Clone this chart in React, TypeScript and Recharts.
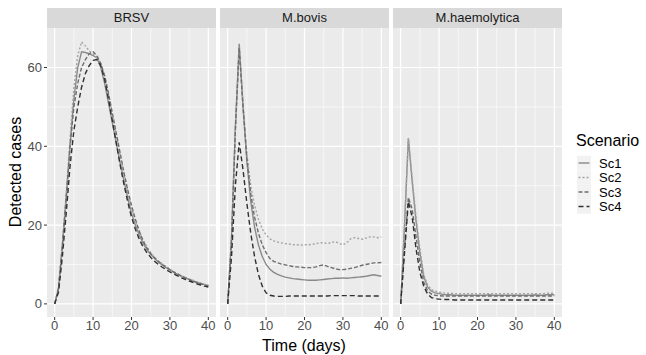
import { LineChart, Line, XAxis, YAxis, CartesianGrid } from 'recharts';

const days = [
  0, 1, 2, 3, 4, 5, 6, 7, 8, 9, 10, 11, 12, 13, 14, 15, 16, 17, 18, 19, 20,
  21, 22, 23, 24, 25, 26, 27, 28, 29, 30, 31, 32, 33, 34, 35, 36, 37, 38, 39, 40,
];

const pathogens = ['BRSV', 'M.bovis', 'M.haemolytica'];
const scenarios = ['Sc1', 'Sc2', 'Sc3', 'Sc4'];

// BRSV
const brsvSc1 = [0, 4, 15, 27, 40, 52, 60, 64, 63.8, 63.5, 63, 62.5, 60, 56, 51, 46, 41, 36, 31.5, 27, 23, 20, 17.5, 15.5, 13.8, 12.5, 11.5, 10.6, 9.9, 9.2, 8.6, 8, 7.5, 7, 6.6, 6.2, 5.8, 5.5, 5.2, 4.9, 4.6];
const brsvSc2 = [0, 4, 15, 28, 42, 55, 63, 66.5, 65.5, 64.2, 63.5, 62.5, 61, 57.5, 53, 48, 43, 38, 33, 28.5, 24.5, 21, 18.5, 16.2, 14.5, 13, 11.8, 10.8, 10.2, 9.5, 8.8, 8.2, 7.6, 7.1, 6.7, 6.3, 6, 5.6, 5.3, 5, 4.8];
const brsvSc3 = [0, 4, 14.5, 27, 40, 50, 56, 60, 62, 63.5, 64, 63, 61, 58, 53.5, 48.5, 43.5, 38.5, 33.5, 29, 25, 21.5, 18.5, 16, 14.2, 12.8, 11.7, 10.8, 10, 9.3, 8.7, 8.1, 7.6, 7.1, 6.6, 6.2, 5.8, 5.4, 5.1, 4.8, 4.5];
const brsvSc4 = [0, 3, 12, 23, 35, 44, 50, 55, 58.5, 60.5, 61.8, 62, 60.5, 57, 52, 46.5, 41, 35.5, 30.5, 26, 22, 19, 16.5, 14.5, 13, 11.8, 10.8, 10, 9.3, 8.7, 8.1, 7.6, 7.1, 6.6, 6.2, 5.8, 5.5, 5.1, 4.8, 4.5, 4.3];

// M.bovis
const bovisSc1 = [0, 17, 45, 66, 50, 36, 26, 19.5, 15, 12, 10, 8.8, 8, 7.5, 7.1, 6.8, 6.6, 6.4, 6.3, 6.2, 6.1, 6, 6, 6, 6.1, 6.2, 6.3, 6.4, 6.5, 6.5, 6.6, 6.5, 6.6, 6.7, 6.8, 6.9, 7, 7.2, 7.4, 7.2, 7];
const bovisSc2 = [0, 16, 44, 65, 51, 38, 30, 25, 21.5, 19, 17.5, 16.5, 16, 15.7, 15.5, 15.3, 15.2, 15, 15, 14.9, 15, 15, 15.1, 15.3, 15.5, 15.5, 15.3, 15.6, 15.8, 15.4, 15, 15.5, 16.5, 16.8, 16.6, 16.4, 16.7, 17, 17, 16.8, 17];
const bovisSc3 = [0, 16, 44, 65, 50, 37, 28, 22, 18, 15, 13, 11.5, 10.8, 10.4, 10.1, 9.9, 9.7, 9.5, 9.4, 9.3, 9.2, 9.2, 9.2, 9.4, 9.7, 9.9, 9.5, 9.2, 8.9, 8.7, 8.7, 8.8, 9, 9.2, 9.5, 9.8, 10, 10.2, 10.4, 10.4, 10.5];
const bovisSc4 = [0, 12, 30, 41, 34, 25.5, 18, 12, 7.5, 4.5, 2.8, 2.2, 2, 1.9, 1.9, 1.9, 2, 2, 2, 2, 2, 2, 2, 2, 2, 2, 2, 2.1, 2.1, 2.1, 2.1, 2.1, 2.1, 2.1, 2, 2, 2, 2, 2, 2, 2];

// M.haemolytica
const haemSc1 = [0, 20, 42, 31, 21, 13, 7, 4.3, 3.2, 2.8, 2.6, 2.4, 2.3, 2.3, 2.2, 2.2, 2.2, 2.2, 2.2, 2.2, 2.2, 2.2, 2.2, 2.3, 2.2, 2.2, 2.2, 2.2, 2.2, 2.2, 2.2, 2.2, 2.2, 2.2, 2.2, 2.3, 2.2, 2.2, 2.3, 2.3, 2.3];
const haemSc2 = [0, 20, 42, 32, 22, 14, 7.5, 4.8, 3.6, 3.2, 3, 2.8, 2.7, 2.7, 2.6, 2.6, 2.6, 2.6, 2.6, 2.6, 2.6, 2.6, 2.6, 2.6, 2.6, 2.6, 2.6, 2.6, 2.6, 2.6, 2.6, 2.6, 2.6, 2.6, 2.6, 2.6, 2.6, 2.6, 2.7, 2.7, 2.7];
const haemSc3 = [0, 14, 27, 24, 17, 10.5, 5.5, 3.3, 2.5, 2.2, 2.1, 2, 2, 2, 2, 2, 2, 2, 2, 2, 2, 2, 2, 2, 2, 2, 2, 2, 2, 2, 2, 2, 2, 2, 2, 2, 2, 2, 2, 2, 2];
const haemSc4 = [0, 13, 26, 22, 14, 8, 4.5, 2.5, 1.6, 1.3, 1.2, 1.1, 1.1, 1.1, 1, 1, 1, 1, 1, 1, 1, 1, 1, 1, 1, 1, 1, 1, 1, 1, 1, 1, 1, 1, 1, 1, 1, 1, 1, 1, 1];

const panelSeries = [
  [brsvSc1, brsvSc2, brsvSc3, brsvSc4],
  [bovisSc1, bovisSc2, bovisSc3, bovisSc4],
  [haemSc1, haemSc2, haemSc3, haemSc4],
];

const xTicks = [0, 10, 20, 30, 40];
const yTicks = [0, 20, 40, 60];

const FONT = '"Liberation Sans", Arial, Helvetica, sans-serif';
const lineStyles = [
  { color: '#8a8a8a', dash: undefined },
  { color: '#a4a4a4', dash: '2 2' },
  { color: '#6e6e6e', dash: '4 2' },
  { color: '#303030', dash: '5 3' },
];

const PANEL_TOP = 28;
const PANEL_H = 289;
const PANEL_W = 169;
const AXIS_W = 47;
const panelLefts = [47, 220, 393];

function buildRows(series: number[][]) {
  return days.map((d, i) => ({
    day: d,
    Sc1: series[0][i],
    Sc2: series[1][i],
    Sc3: series[2][i],
    Sc4: series[3][i],
  }));
}

function Panel({ index }: { index: number }) {
  const first = index === 0;
  const rows = buildRows(panelSeries[index]);
  return (
    <div
      style={{
        position: 'absolute',
        left: first ? 0 : panelLefts[index],
        top: PANEL_TOP,
      }}
    >
      <LineChart
        width={first ? AXIS_W + PANEL_W : PANEL_W}
        height={PANEL_H + 24}
        data={rows}
        margin={{ top: 0, right: 0, bottom: 0, left: 0 }}
      >
        <CartesianGrid
          fill="#EBEBEB"
          stroke="#ffffff"
          strokeWidth={0.6}
          verticalValues={[5, 15, 25, 35]}
          horizontalValues={[10, 30, 50]}
        />
        <CartesianGrid
          stroke="#ffffff"
          strokeWidth={1.2}
          verticalValues={xTicks}
          horizontalValues={yTicks}
        />
        <XAxis
          dataKey="day"
          type="number"
          domain={[-2, 42]}
          ticks={xTicks}
          allowDataOverflow
          axisLine={false}
          tickLine={{ stroke: '#333333' }}
          tickSize={3}
          tickMargin={1}
          height={24}
          tick={{ fill: '#4D4D4D', fontSize: 13, fontFamily: FONT }}
        />
        <YAxis
          type="number"
          domain={[-3.33, 70.03]}
          ticks={yTicks}
          allowDataOverflow
          hide={!first}
          width={AXIS_W}
          axisLine={false}
          tickLine={{ stroke: '#333333' }}
          tickSize={3}
          tickMargin={2}
          tick={{ fill: '#4D4D4D', fontSize: 13, fontFamily: FONT }}
        />
        {scenarios.map((s, i) => (
          <Line
            key={s}
            type="linear"
            dataKey={s}
            stroke={lineStyles[i].color}
            strokeWidth={1.4}
            strokeDasharray={lineStyles[i].dash}
            dot={false}
            isAnimationActive={false}
          />
        ))}
      </LineChart>
    </div>
  );
}

export default function App() {
  const legendRows = [163, 177.5, 192, 206.5];
  return (
    <div
      style={{
        position: 'absolute',
        left: 0,
        top: 0,
        width: 646,
        height: 355,
        background: '#ffffff',
        fontFamily: FONT,
      }}
    >
      {pathogens.map((p, i) => (
        <div
          key={p}
          style={{
            position: 'absolute',
            left: panelLefts[i],
            top: 8,
            width: PANEL_W,
            height: 20,
            background: '#D9D9D9',
            color: '#1A1A1A',
            fontSize: 13,
            lineHeight: '20px',
            textAlign: 'center',
          }}
        >
          {p}
        </div>
      ))}
      {pathogens.map((p, i) => (
        <Panel key={p} index={i} />
      ))}
      <svg
        width={646}
        height={355}
        style={{ position: 'absolute', left: 0, top: 0, pointerEvents: 'none' }}
      >
        <text
          x={15}
          y={172}
          transform="rotate(-90 15 172)"
          textAnchor="middle"
          dominantBaseline="central"
          fontSize={16}
          fontFamily={FONT}
          fill="#000000"
        >
          Detected cases
        </text>
        <text
          x={304}
          y={345}
          textAnchor="middle"
          dominantBaseline="central"
          fontSize={16}
          fontFamily={FONT}
          fill="#000000"
        >
          Time (days)
        </text>
        <text
          x={576}
          y={140}
          dominantBaseline="central"
          fontSize={16}
          fontFamily={FONT}
          fill="#000000"
        >
          Scenario
        </text>
        {scenarios.map((s, i) => (
          <g key={s}>
            <rect
              x={577}
              y={legendRows[i] - 7.25}
              width={14}
              height={14.5}
              fill="#F2F2F2"
            />
            <line
              x1={578.5}
              x2={589.5}
              y1={legendRows[i]}
              y2={legendRows[i]}
              stroke={lineStyles[i].color}
              strokeWidth={1.4}
              strokeDasharray={lineStyles[i].dash}
            />
            <text
              x={599}
              y={legendRows[i]}
              dominantBaseline="central"
              fontSize={13}
              fontFamily={FONT}
              fill="#000000"
            >
              {s}
            </text>
          </g>
        ))}
      </svg>
    </div>
  );
}
